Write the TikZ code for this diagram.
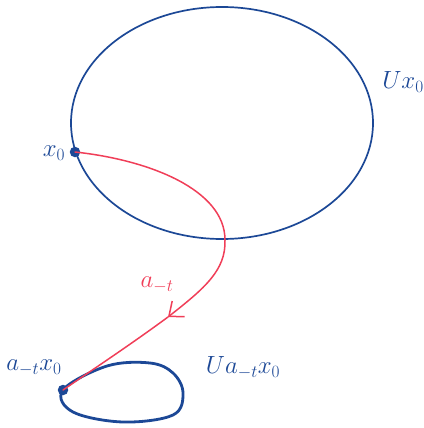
\documentclass[tikz,border=0pt]{standalone}
\usetikzlibrary{arrows.meta}
\definecolor{inkblue}{RGB}{28,72,150}
\definecolor{inkred}{RGB}{240,62,88}
\begin{document}
\begin{tikzpicture}[x=1pt,y=-1pt,
  bluelbl/.style={text=inkblue,font=\fontsize{25}{27}\selectfont,inner sep=0pt},
  redlbl/.style={text=inkred,font=\fontsize{25}{27}\selectfont,inner sep=0pt},
  dotnode/.style={circle,fill=inkblue,inner sep=0pt,minimum size=10.5pt},
  blueline/.style={draw=inkblue,line width=1.7pt},
  loopline/.style={draw=inkblue,line width=2.8pt,line join=round},
  redline/.style={draw=inkred,line width=1.5pt,line cap=round}]
\useasboundingbox (0,0) rectangle (423,428);
% big neighbourhood
\draw[blueline] (222,123) ellipse [x radius=151, y radius=116];
% small neighbourhood
\draw[loopline] plot[smooth cycle, tension=0.6] coordinates
  {(63,390) (107,366) (150,363) (173,373) (183,393) (173,415) (123,422) (73,412)};
% points
\node[dotnode] (x0) at (75,152) {};
\node[dotnode] (ax0) at (63,390) {};
\coordinate (m) at (168,317);
% red trajectory
\draw[redline,-{Straight Barb[length=12pt,width=20pt,line width=1.5pt]}]
  (x0.center) .. controls (150,160) and (225,190) .. (225,240)
  .. controls (226,270) and (205,288) .. (m);
\draw[redline] (m) .. controls (130,345) and (95,368) .. (ax0.center);
% labels
\node[bluelbl] (lU) at (403,82) {$Ux_0$};
\node[bluelbl] (lx) at (54,153) {$x_0$};
\node[redlbl] (lat) at (157,285) {$a_{-t}$};
\node[bluelbl] (lax) at (34,368) {$a_{-t}x_0$};
\node[bluelbl] (lUax) at (243,368) {$Ua_{-t}x_0$};
\end{tikzpicture}
\end{document}
